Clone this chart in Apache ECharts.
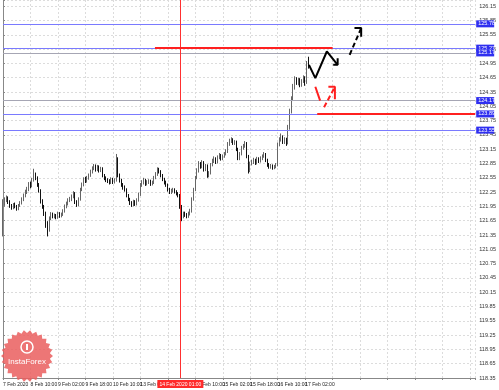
<!DOCTYPE html>
<html><head><meta charset="utf-8">
<script src="https://cdn.jsdelivr.net/npm/echarts@6/dist/echarts.min.js"></script>
<style>html,body{margin:0;padding:0;background:#fff}#c{width:499px;height:390px}</style>
</head><body><div id="c"></div><script>
// ---- data (hourly candles, prices) ----
const firstOpen = 121.35;
const closes = [
122.00,122.08,122.12,122.05,121.96,121.92,121.98,121.95,121.90,121.97,
122.02,122.10,122.18,122.25,122.30,122.42,122.38,122.50,122.62,122.55,
122.40,122.28,122.05,121.95,121.80,121.60,121.45,121.70,121.78,121.74,
121.76,121.72,121.80,121.75,121.78,121.85,121.95,122.00,122.08,122.10,
122.15,122.22,122.05,121.98,122.10,122.30,122.40,122.52,122.48,122.55,
122.60,122.68,122.75,122.80,122.72,122.78,122.70,122.74,122.60,122.55,
122.50,122.48,122.45,122.52,122.46,122.50,122.95,122.60,122.50,122.40,
122.35,122.30,122.18,122.10,122.02,121.98,122.05,122.00,122.08,122.20,
122.40,122.45,122.50,122.42,122.46,122.48,122.42,122.45,122.55,122.62,
122.72,122.68,122.60,122.52,122.45,122.40,122.30,122.25,122.28,122.30,
122.26,122.22,122.18,121.95,121.75,121.80,121.78,121.74,121.80,121.85,
122.10,122.30,122.55,122.70,122.85,122.78,122.88,122.72,122.80,122.60,
122.65,122.82,122.90,122.95,122.88,122.98,123.02,122.95,123.00,123.05,
123.10,123.25,123.32,123.35,123.28,123.30,123.15,122.95,123.05,123.18,
123.22,123.28,123.00,122.70,122.85,122.88,122.92,122.86,122.95,122.90,
122.96,123.00,123.05,122.92,122.82,122.78,122.80,122.76,122.78,122.82,
123.25,123.35,123.40,123.30,123.35,123.28,123.60,123.95,124.20,124.45,
124.62,124.55,124.60,124.50,124.58,124.65,124.55,124.95,124.90];
const highs = [
122.10,122.14,122.18,122.16,122.08,122.00,122.02,122.03,121.98,122.00,
122.06,122.14,122.22,122.30,122.36,122.46,122.47,122.55,122.74,122.66,
122.58,122.44,122.31,122.10,121.98,121.84,121.64,121.74,121.83,121.82,
121.80,121.79,121.84,121.83,121.82,121.89,121.99,122.05,122.12,122.15,
122.20,122.27,122.25,122.08,122.14,122.34,122.45,122.56,122.57,122.59,
122.64,122.72,122.79,122.84,122.83,122.82,122.81,122.78,122.77,122.63,
122.58,122.54,122.52,122.56,122.55,122.54,123.05,122.98,122.64,122.53,
122.44,122.39,122.33,122.21,122.13,122.06,122.09,122.08,122.12,122.24,
122.44,122.50,122.55,122.53,122.50,122.52,122.51,122.49,122.59,122.67,
122.77,122.76,122.71,122.63,122.55,122.49,122.43,122.34,122.32,122.34,
122.33,122.29,122.25,122.21,121.98,121.84,121.84,121.81,121.84,121.90,
122.14,122.34,122.59,122.75,122.90,122.88,122.92,122.90,122.84,122.83,
122.69,122.86,122.95,123.00,122.98,123.02,123.07,123.05,123.04,123.09,
123.15,123.30,123.37,123.40,123.38,123.34,123.33,123.18,123.09,123.22,
123.26,123.32,123.30,123.03,122.89,122.93,122.97,122.95,122.99,122.98,
123.00,123.04,123.09,123.07,122.95,122.86,122.84,122.83,122.82,122.86,
123.29,123.40,123.48,123.44,123.40,123.39,123.66,124.00,124.26,124.52,
124.68,124.66,124.65,124.64,124.62,124.70,124.68,125.00,125.09];
const lows = [
121.32,121.96,122.04,122.00,121.92,121.88,121.89,121.91,121.86,121.87,
121.94,121.99,122.06,122.14,122.21,122.27,122.33,122.35,122.47,122.50,
122.36,122.24,122.01,121.90,121.75,121.50,121.32,121.42,121.66,121.70,
121.70,121.68,121.69,121.71,121.72,121.75,121.82,121.91,121.97,122.04,
122.06,122.12,122.00,121.94,121.95,122.07,122.27,122.37,122.44,122.45,
122.51,122.57,122.64,122.71,122.68,122.69,122.66,122.67,122.56,122.50,
122.46,122.44,122.41,122.42,122.42,122.43,122.47,122.56,122.45,122.36,
122.30,122.26,122.14,122.06,121.98,121.94,121.95,121.96,121.97,122.05,
122.17,122.36,122.41,122.38,122.39,122.42,122.38,122.39,122.42,122.52,
122.59,122.64,122.56,122.48,122.41,122.36,122.26,122.21,122.21,122.24,
122.22,122.18,122.14,121.90,121.64,121.70,121.73,121.70,121.71,121.76,
121.82,122.07,122.27,122.52,122.66,122.74,122.75,122.68,122.69,122.55,
122.56,122.62,122.79,122.86,122.84,122.85,122.94,122.91,122.92,122.97,
123.02,123.07,123.22,123.28,123.24,123.24,123.11,122.92,122.92,123.02,
123.14,123.18,122.96,122.64,122.67,122.81,122.84,122.82,122.83,122.86,
122.87,122.92,122.97,122.88,122.78,122.74,122.74,122.72,122.73,122.75,
122.79,123.21,123.31,123.26,123.26,123.22,123.25,123.56,123.90,124.16,
124.40,124.50,124.49,124.45,124.46,124.54,124.48,124.52,124.84];
const tickLabels = ["7 Feb 2020","8 Feb 10:00","9 Feb 02:00","9 Feb 18:00","10 Feb 10:00","13 Feb 02:00",
  "13 Feb 18:00","14 Feb 10:00","15 Feb 02:00","15 Feb 18:00","16 Feb 10:00","17 Feb 02:00"];
const blueLevels = [125.78, 125.27, 123.89, 123.55];
const grayLevels = [125.17, 124.17];
const lastPrice = 124.90;
const cursorHour = 103.3;
const cursorLabel = "14 Feb 2020 01:00";
// red resistance / support segments [hourFrom, hourTo, price]
const redSegments = [[88.5, 192, 125.27], [183, 275, 123.89]];
// forecast drawings: [hour, price]
const blackPath = [[178.2,124.92],[181.9,124.64],[188.6,125.20],[194.9,124.92]];
const blackHead = [[192.3,124.92],[194.9,124.92],[194.9,125.06]];
const blackDash = [[201.9,125.13],[208.6,125.69]];
const blackDashHead = [[204.7,125.69],[208.6,125.69],[208.6,125.51]];
const redPath = [[181.9,124.46],[184.7,124.17]];
const redDash = [[187.0,124.03],[193.0,124.44]];
const redHead = [[189.5,124.46],[193.3,124.46],[193.3,124.20]];

// ---- build ----
const candles = closes.map((c, i) => [i, i === 0 ? firstOpen : closes[i - 1], c, lows[i], highs[i]]);
const FONT = 'Liberation Sans';
const boxLabel = (bg) => ({
  show: true, position: 'end', distance: 1, formatter: p => p.value.toFixed(2),
  backgroundColor: bg, color: '#fff', fontSize: 5.5, fontFamily: FONT, padding: [1, 1, 0, 2], width: 15
});
const mlData = [];
blueLevels.forEach(v => mlData.push({ yAxis: v, lineStyle: { color: '#7a7aff', width: 1, type: 'solid' }, label: boxLabel('#2f2ff0') }));
grayLevels.forEach(v => mlData.push({ yAxis: v, lineStyle: { color: '#a6a6b4', width: 1, type: 'solid' }, label: boxLabel('#2f2ff0') }));
mlData.push({ yAxis: lastPrice, lineStyle: { opacity: 0 }, label: boxLabel('#000') });
mlData.push({ xAxis: cursorHour, lineStyle: { color: '#ff3030', width: 1, type: 'solid' },
  label: { show: true, position: 'start', distance: 2, formatter: cursorLabel, backgroundColor: '#ff2a2a',
    color: '#fff', fontSize: 5, fontFamily: FONT, padding: [2, 2, 1, 2] } });
redSegments.forEach(s => mlData.push([
  { coord: [s[0], s[2]], lineStyle: { color: '#ff2020', width: 2, type: 'solid' }, label: { show: false } },
  { coord: [s[1], s[2]] }]));

const lineSeries = (data, color, dashed) => ({
  type: 'line', data, symbol: 'none', silent: true, animation: false, z: 5, clip: false,
  lineStyle: { color, width: 2, type: dashed ? [5, 3] : 'solid' }
});

// logo
const cx = 27, cy = 356, teeth = 26, rOut = 26, rIn = 23;
const pts = [];
for (let k = 0; k < teeth * 2; k++) {
  const a = Math.PI * k / teeth, r = k % 2 ? rIn : rOut;
  pts.push([cx + r * Math.cos(a), cy + r * Math.sin(a)]);
}

const chart = echarts.init(document.getElementById('c'), null, { renderer: 'canvas' });
chart.setOption({
  animation: false,
  backgroundColor: '#fff',
  grid: { left: 0, top: 0, right: 18, bottom: 12, containLabel: false },
  xAxis: {
    type: 'value', min: 0, max: 275, interval: 16,
    axisLine: { show: true, lineStyle: { color: '#888', width: 1 } },
    axisTick: { show: true, length: 2, lineStyle: { color: '#888' } },
    axisLabel: { show: true, fontSize: 5, fontFamily: FONT, color: '#222', align: 'left', margin: 4,
      showMinLabel: true, hideOverlap: false,
      formatter: v => { const k = Math.round(v / 16); return (Math.abs(v - k * 16) < 1e-6 && tickLabels[k]) ? tickLabels[k] : ''; } },
    splitLine: { show: true, lineStyle: { color: '#dcdcdc', type: [2, 2], width: 1 } }
  },
  yAxis: {
    type: 'value', position: 'right', min: 118.35, max: 126.28, interval: 0.3, scale: true,
    axisLine: { show: true, lineStyle: { color: '#888', width: 1 } },
    axisTick: { show: true, length: 2, lineStyle: { color: '#888' } },
    axisLabel: { show: true, fontSize: 5.5, fontFamily: FONT, color: '#333', margin: 4,
      formatter: v => { const k = Math.round((v - 118.35) / 0.3); return Math.abs(v - (118.35 + k * 0.3)) < 1e-6 ? v.toFixed(2) : ''; } },
    splitLine: { show: true, lineStyle: { color: '#dcdcdc', type: [2, 2], width: 1 } }
  },
  series: [
    {
      type: 'candlestick', data: candles, encode: { x: 0, y: [1, 2, 3, 4] }, barWidth: 1,
      itemStyle: { color: '#777', color0: '#111', borderColor: '#666', borderColor0: '#111', borderWidth: 1 },
      markLine: { symbol: 'none', silent: true, animation: false, data: mlData, z: 3 }
    },
    lineSeries(blackPath, '#000', false),
    lineSeries(blackHead, '#000', false),
    lineSeries(blackDash, '#000', true),
    lineSeries(blackDashHead, '#000', false),
    lineSeries(redPath, '#ff2020', false),
    lineSeries(redDash, '#ff2020', true),
    lineSeries(redHead, '#ff2020', false)
  ],
  graphic: [
    { type: 'polygon', shape: { points: pts }, style: { fill: '#ea5e5e', opacity: 0.85 }, z: 10 },
    { type: 'circle', shape: { cx: cx, cy: cy - 9, r: 6 }, style: { fill: 'none', stroke: '#fff', lineWidth: 1.5 }, z: 11 },
    { type: 'rect', shape: { x: cx - 1, y: cy - 12, width: 2, height: 6 }, style: { fill: '#fff' }, z: 11 },
    { type: 'text', x: cx, y: cy + 6, style: { text: 'InstaForex', fill: '#fff', fontSize: 8, fontFamily: FONT, align: 'center', verticalAlign: 'middle' }, z: 11 }
  ]
});
</script></body></html>
